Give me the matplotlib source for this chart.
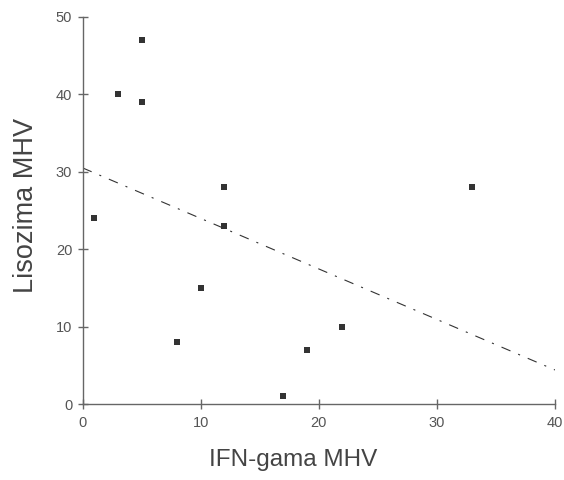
import matplotlib.pyplot as plt

# data
ifn = [1, 3, 5, 5, 8, 10, 12, 12, 17, 19, 22, 33]
lisozima = [24, 40, 47, 39, 8, 15, 28, 23, 1, 7, 10, 28]

# fitted line end points
fit_x = [0, 40]
fit_y = [30.5, 4.4]

plt.rcParams['font.family'] = ['Liberation Sans', 'DejaVu Sans']
plt.rcParams['lines.scale_dashes'] = False

fig = plt.figure(figsize=(5.64, 4.8), dpi=100)
ax = fig.add_axes([0.1466, 0.1583, 0.8374, 0.8063])

ax.plot(fit_x, fit_y, color='#333333', linewidth=0.8,
        linestyle=(0, (7, 6, 1.5, 6)))
ax.scatter(ifn, lisozima, marker='s', s=18, color='#333333', linewidths=0)

ax.set_xlim(0, 40)
ax.set_ylim(0, 50)
ax.set_xticks([0, 10, 20, 30, 40])
ax.set_yticks([0, 10, 20, 30, 40, 50])

for side in ['top', 'right']:
    ax.spines[side].set_visible(False)
for side in ['left', 'bottom']:
    ax.spines[side].set_color('#666666')
    ax.spines[side].set_linewidth(1.0)

ax.tick_params(direction='inout', length=7, width=1.0, color='#666666',
               labelcolor='#555555', labelsize=10.5)
ax.tick_params(axis='x', pad=5)
ax.tick_params(axis='y', pad=4)

ax.set_xlabel('IFN-gama MHV', fontsize=17.5, color='#444444')
ax.xaxis.set_label_coords(0.445, -0.115)
ax.set_ylabel('Lisozima MHV', fontsize=19.5, color='#444444')
ax.yaxis.set_label_coords(-0.093, 0.514)

fig.savefig('out.png', dpi=100)
